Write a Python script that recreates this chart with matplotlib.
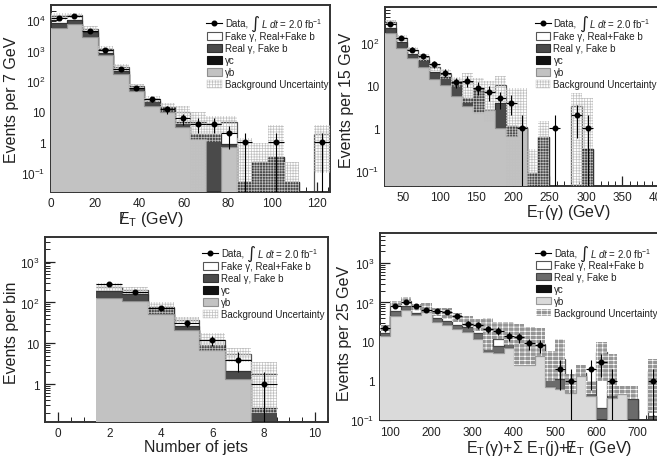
import numpy as np
import matplotlib
matplotlib.use('Agg')
import matplotlib.pyplot as plt
from matplotlib.patches import Patch
from matplotlib.lines import Line2D

plt.rcParams['font.family'] = ['Liberation Sans', 'DejaVu Sans']
plt.rcParams['mathtext.fontset'] = 'custom'
plt.rcParams['mathtext.rm'] = 'Liberation Sans'
plt.rcParams['mathtext.it'] = 'Liberation Sans:italic'
plt.rcParams['mathtext.bf'] = 'Liberation Sans:bold'
plt.rcParams['hatch.linewidth'] = 0.5

# ---------------- data ----------------
# Panel 1: missing ET, 7 GeV bins from 0
met_lo, met_w = 0, 7
met_gb = [5600, 7200, 2800, 690, 165, 47, 15, 9.7, 3.2, 1.3, 0, 0.69, 0, 0, 0, 0, 0, 0]
met_gc = [0, 0, 0, 0, 0, 0, 0, 0, 0, 0, 0, 0, 0, 0, 0, 0, 0, 0]
met_rg = [2600, 2800, 1100, 160, 45, 13, 7, 3.8, 1.4, 0.5, 1.8, 0.2, 0.051, 0.23, 0.32, 0.05, 0, 0]
met_fk = [5300, 4500, 1300, 300, 80, 9, 4, 1.0, 4.9, 2.7, 2.2, 3.5, 0, 0, 0, 0, 0, 1.9]
met_data = [12000, 13500, 4400, 1000, 240, 60, 25, 12, 6, 4, 4, 2, 1, 0, 1, 0, 0, 1]
met_unc = [3500, 3000, 1300, 250, 70, 11, 6, 5, 5.5, 5.5, 3, 2.6, 1.35, 0.7, 3.4, 0.18, 0, 1.8]

# Panel 2: photon ET, 15 GeV bins from 25
pt_lo, pt_w = 25, 15
pt_gb = [170, 76, 44, 28, 14.4, 10.5, 5.6, 3.3, 2.4, 2.6, 1.0, 0.64, 1.0, 0, 0, 0, 0, 0, 0, 0, 0, 0, 0, 0, 0]
pt_gc = [0, 0, 0, 0, 0, 0, 0, 0, 0, 0, 0, 0, 0, 0, 0, 0, 0, 0, 0, 0, 0, 0, 0, 0, 0]
pt_rg = [55, 28, 11, 11, 6.6, 5.5, 5.9, 1.9, 5.3, 0.1, 2.9, 0.46, 0, 0.09, 0.61, 0, 0, 0, 0.33, 0, 0, 0, 0, 0, 0]
pt_fk = [80, 26, 15, 7, 7, 3, 1.1, 6.8, 0.8, 4.3, 6.6, 0.05, 0.05, 0, 0, 0, 0, 3.4, 0, 0, 0, 0, 0, 0, 0]
pt_data = [280, 130, 70, 49, 32, 20, 12, 13, 9, 7, 5, 4, 1, 0, 0, 1, 0, 2, 1, 0, 0, 0, 0, 0, 0]
pt_unc = [50, 20, 10, 9, 6, 5, 3.4, 8, 6.5, 5.6, 6.5, 7.7, 7.9, 0.23, 0.84, 0, 0, 3.4, 4.9, 0, 0, 0, 0, 0, 0]

# Panel 3: number of jets
nj_lo, nj_w = 1.5, 1
nj_gb = [126, 110, 51, 21, 6.7, 1.3, 0]
nj_gc = [0, 0, 0, 0, 0, 0, 0]
nj_rg = [69, 48, 21, 6, 2.4, 0.8, 0.26]
nj_fk = [49, 42, 7, 10, 2.9, 3.5, 1.54]
nj_data = [280, 185, 75, 31, 12, 4, 1]
nj_unc = [56, 35, 26, 8, 5.4, 2.2, 1.6]

# Panel 4: HT, 25 GeV bins from 75
ht_lo, ht_w = 75, 25
ht_gb = [14, 44, 65, 48, 56, 31, 27, 21, 18, 11.5, 5.5, 5.0, 7, 2.6, 2.6, 4.4, 0.7, 0.6, 0.5, 1.35, 0.41, 0, 0.37, 0.46, 0, 0, 0, 0, 0]
ht_gc = [0, 0, 0, 0, 0, 0, 0, 0, 0, 0, 0, 0, 0, 0, 0, 0, 0, 0, 0, 0, 0, 0, 0, 0, 0, 0, 0, 0, 0]
ht_rg = [2.6, 18, 18, 6, 9, 8, 7, 5, 5, 5.5, 6, 2.8, 4.5, 4.4, 3.9, 3.7, 1.9, 0.5, 0.24, 0.25, 0.19, 0.2, 0.18, 0, 0.34, 0, 0.13, 0, 0]
ht_fk = [6.4, 29, 27, 21, 6, 17, 12, 12, 8, 7.5, 7.5, 3.7, 2.5, 0.5, 0.5, 0.4, 1.4, 2.5, 0, 0, 0, 5.1, 0.05, 0, 0, 0, 1.67, 0, 0]
ht_data = [22, 83, 100, 80, 65, 61, 58, 44, 28, 26, 21, 19, 14, 13, 9, 8, 0, 2, 1, 0, 2, 3, 1, 0, 0, 0, 1, 0, 0]
ht_band_lo = [19, 75, 90, 62, 58, 46, 38, 31, 25, 19, 6, 11.5, 8, 2.6, 2.6, 4.4, 1.0, 1.1, 0.5, 1.3, 0.45, 1.0, 0.4, 0.46, 0.34, 0, 0.15, 0, 0]
ht_band_hi = [26, 110, 138, 90, 95, 72, 74, 55, 44, 38, 39, 31, 31, 28, 23, 22, 5.9, 11.5, 1.5, 2.6, 1.0, 9.5, 4.8, 0.74, 0.74, 0, 3.5, 0, 0]

data_label = 'Data,'
lumi_label = '$L\\ dt$ = 2.0 fb$^{-1}$'
labels = ['Fake γ, Real+Fake b', 'Real γ, Fake b', 'γc', 'γb', 'Background Uncertainty']

# ---------------- figure ----------------
W, H = 657, 464
fig = plt.figure(figsize=(W / 100, H / 100), dpi=100)
FLOOR = 1e-5
TXT = '#222222'
LFS = 7


def add_ax(l, r, t, b):
    return fig.add_axes([l / W, 1 - b / H, (r - l) / W, (b - t) / H])


def panel(ax, lo, w, gb, gc, rg, fk, data, band_lo, band_hi, sty):
    n = len(gb)
    edges = lo + w * np.arange(n + 1)
    centers = edges[:-1] + w / 2
    c1 = np.array(gb, float)
    c2 = c1 + np.array(gc, float)
    c3 = c2 + np.array(rg, float)
    c4 = c3 + np.array(fk, float)
    layers = [(c4, 'white', sty['fk_edge']), (c3, sty['rg'], sty['rg_edge']),
              (c2, '#111111', '#111111'), (c1, sty['gb'], sty['gb_edge'])]
    for z, (v, fc, ec) in enumerate(layers):
        vv = np.where(v > 0, v, FLOOR)
        ax.stairs(vv, edges, baseline=FLOOR, fill=True, facecolor=fc, edgecolor='none', lw=0, zorder=1 + z)
        ax.stairs(vv, edges, baseline=None, color=ec, lw=0.9, zorder=1.5 + z)
    bl = np.where(np.array(band_lo) > 0, band_lo, FLOOR)
    bh = np.where(np.array(band_hi) > 0, band_hi, FLOOR)
    ax.stairs(bh, edges, baseline=bl, fill=True, facecolor=sty['band_fc'], edgecolor=sty['band_hc'],
              hatch=sty['hatch'], lw=0, zorder=6)
    d = np.array(data, float)
    m = d > 0
    up = np.sqrt(d[m])
    dn = d[m] - np.maximum(d[m] - np.sqrt(d[m]), 1e-3)
    ax.errorbar(centers[m], d[m], xerr=w / 2, yerr=[dn, up], fmt='o', color='black', ms=3.3,
                elinewidth=0.8, capsize=0, zorder=10)


def style_ax(ax, xlim, ylim, xmaj, xmin, yticks, ylabels):
    ax.set_yscale('log')
    ax.set_xlim(*xlim)
    ax.set_ylim(*ylim)
    ax.xaxis.set_major_locator(matplotlib.ticker.MultipleLocator(xmaj))
    ax.xaxis.set_minor_locator(matplotlib.ticker.MultipleLocator(xmin))
    ax.set_yticks(yticks, ylabels)
    ax.yaxis.set_minor_locator(matplotlib.ticker.LogLocator(base=10, subs=np.arange(2, 10)))
    ax.yaxis.set_minor_formatter(matplotlib.ticker.NullFormatter())
    ax.tick_params(which='both', direction='in', top=False, right=False, colors=TXT, labelsize=8.5)
    ax.tick_params(which='major', length=7, width=0.9, pad=4)
    ax.tick_params(which='minor', length=3.5, width=0.7)
    for s in ax.spines.values():
        s.set_linewidth(1.4)
        s.set_color('#333333')


data_rows = []


def legend(ax, sty, x, y_data, y_top):
    # data entry (line + marker) drawn as its own row above the legend block
    fig.add_artist(Line2D([(x - 1) / W, (x + 15) / W], [1 - y_data / H] * 2, color='black', lw=0.8,
                          transform=fig.transFigure))
    fig.add_artist(Line2D([(x + 7) / W], [1 - y_data / H], color='black', marker='o', ms=3.3, lw=0,
                          transform=fig.transFigure))
    data_rows.append((x + 18, y_data))
    handles = [Patch(facecolor='white', edgecolor=sty['fk_edge'], lw=0.8),
               Patch(facecolor=sty['rg'], edgecolor=sty['rg_edge'], lw=0.8),
               Patch(facecolor='#111111', edgecolor='#111111', lw=0.8),
               Patch(facecolor=sty['gb'], edgecolor=sty['gb_edge'], lw=0.8),
               Patch(facecolor=sty['band_fc'], edgecolor=sty['band_hc'], hatch=sty['hatch'], lw=0.3)]
    lg = ax.legend(handles, labels, loc='upper left', bbox_to_anchor=(x / W, 1 - y_top / H),
                   bbox_transform=fig.transFigure, frameon=False, fontsize=LFS, handlelength=1.5,
                   handleheight=0.85, handletextpad=0.35, labelspacing=0.2, borderpad=0, borderaxespad=0)
    for t in lg.get_texts():
        t.set_color(TXT)


sty_a = dict(gb='#c2c2c2', gb_edge='#8f8f8f', rg='#4a4a4a', rg_edge='#333333', fk_edge='#555555',
             band_fc='none', band_hc='#c0c0c0', hatch='++++++')
sty_b = dict(gb='#dadada', gb_edge='#9a9a9a', rg='#6b6b6b', rg_edge='#444444', fk_edge='#555555',
             band_fc='#959595', band_hc='white', hatch='+++-')

yl = {0.1: '10$^{-1}$', 1: '1', 10: '10', 100: '10$^{2}$', 1000: '10$^{3}$', 10000: '10$^{4}$'}

# Panel 1
ax1 = add_ax(51, 330, 5.5, 192.5)
tot1 = np.array(met_gb) + met_gc + np.array(met_rg) + met_fk
panel(ax1, met_lo, met_w, met_gb, met_gc, met_rg, met_fk, met_data, tot1 - met_unc, tot1 + met_unc, sty_a)
t1 = [0.1, 1, 10, 100, 1000, 10000]
style_ax(ax1, (0, 126), (0.024, 3.2e4), 20, 5, t1, [yl[t] for t in t1])
legend(ax1, sty_a, 207, 24, 32.5)

# Panel 2
ax2 = add_ax(385, 659, 8, 186.5)
tot2 = np.array(pt_gb) + pt_gc + np.array(pt_rg) + pt_fk
panel(ax2, pt_lo, pt_w, pt_gb, pt_gc, pt_rg, pt_fk, pt_data, tot2 - pt_unc, tot2 + pt_unc, sty_a)
t2 = [0.1, 1, 10, 100]
style_ax(ax2, (25, 400), (0.045, 700), 50, 10, t2, [yl[t] for t in t2])
legend(ax2, sty_a, 535.5, 24, 32.5)

# Panel 3
ax3 = add_ax(45, 328, 238, 422.7)
tot3 = np.array(nj_gb) + nj_gc + np.array(nj_rg) + nj_fk
panel(ax3, nj_lo, nj_w, nj_gb, nj_gc, nj_rg, nj_fk, nj_data, tot3 - nj_unc, tot3 + nj_unc, sty_a)
t3 = [1, 10, 100, 1000]
style_ax(ax3, (-0.5, 10.5), (0.12, 4000), 2, 0.5, t3, [yl[t] for t in t3])
legend(ax3, sty_a, 203, 254, 262.5)

# Panel 4
ax4 = add_ax(380, 678.7, 234, 421)
panel(ax4, ht_lo, ht_w, ht_gb, ht_gc, ht_rg, ht_fk, ht_data, ht_band_lo, ht_band_hi, sty_b)
t4 = [0.1, 1, 10, 100, 1000]
style_ax(ax4, (75, 800), (0.1, 5900), 100, 20, t4, [yl[t] for t in t4])
legend(ax4, sty_b, 536, 254, 261)

# axis titles
fs = 11.5
fig.text(12 / W, 1 - 100 / H, 'Events per 7 GeV', rotation=90, ha='center', va='center', fontsize=fs, color=TXT)
fig.text(346 / W, 1 - 100 / H, 'Events per 15 GeV', rotation=90, ha='center', va='center', fontsize=fs, color=TXT)
fig.text(12 / W, 1 - 333 / H, 'Events per bin', rotation=90, ha='center', va='center', fontsize=fs, color=TXT)
fig.text(344 / W, 1 - 333 / H, 'Events per 25 GeV', rotation=90, ha='center', va='center', fontsize=fs, color=TXT)
fig.text(152 / W, 1 - 220 / H, r'$/\!\!\!\mathrm{E}_\mathrm{T}$ (GeV)', ha='center', va='center', fontsize=fs, color=TXT)
fig.text(568 / W, 1 - 213 / H, r'E$_\mathrm{T}$(γ) (GeV)', ha='center', va='center', fontsize=fs, color=TXT)
fig.text(196 / W, 1 - 448 / H, 'Number of jets', ha='center', va='center', fontsize=fs, color=TXT)
fig.text(549 / W, 1 - 449 / H, r'E$_\mathrm{T}$(γ)+Σ E$_\mathrm{T}$(j)+$/\!\!\!\mathrm{E}_\mathrm{T}$ (GeV)',
         ha='center', va='center', fontsize=fs, color=TXT)

# data legend rows: "Data," + large integral + luminosity
fig.canvas.draw()
rend = fig.canvas.get_renderer()
for (xt, yd) in data_rows:
    t0 = fig.text(xt / W, 1 - yd / H, data_label, fontsize=LFS, ha='left', va='center', color=TXT)
    bb = t0.get_window_extent(rend)
    integ = fig.text((bb.x1 + 3) / W, 1 - (yd - 0.5) / H, '∫', fontsize=12.5, family='DejaVu Sans',
                     ha='left', va='center', color=TXT)
    ib = integ.get_window_extent(rend)
    fig.text((ib.x1 + 0.5) / W, 1 - yd / H, lumi_label, fontsize=LFS, ha='left', va='center', color=TXT)

fig.savefig('out.png', dpi=100)
